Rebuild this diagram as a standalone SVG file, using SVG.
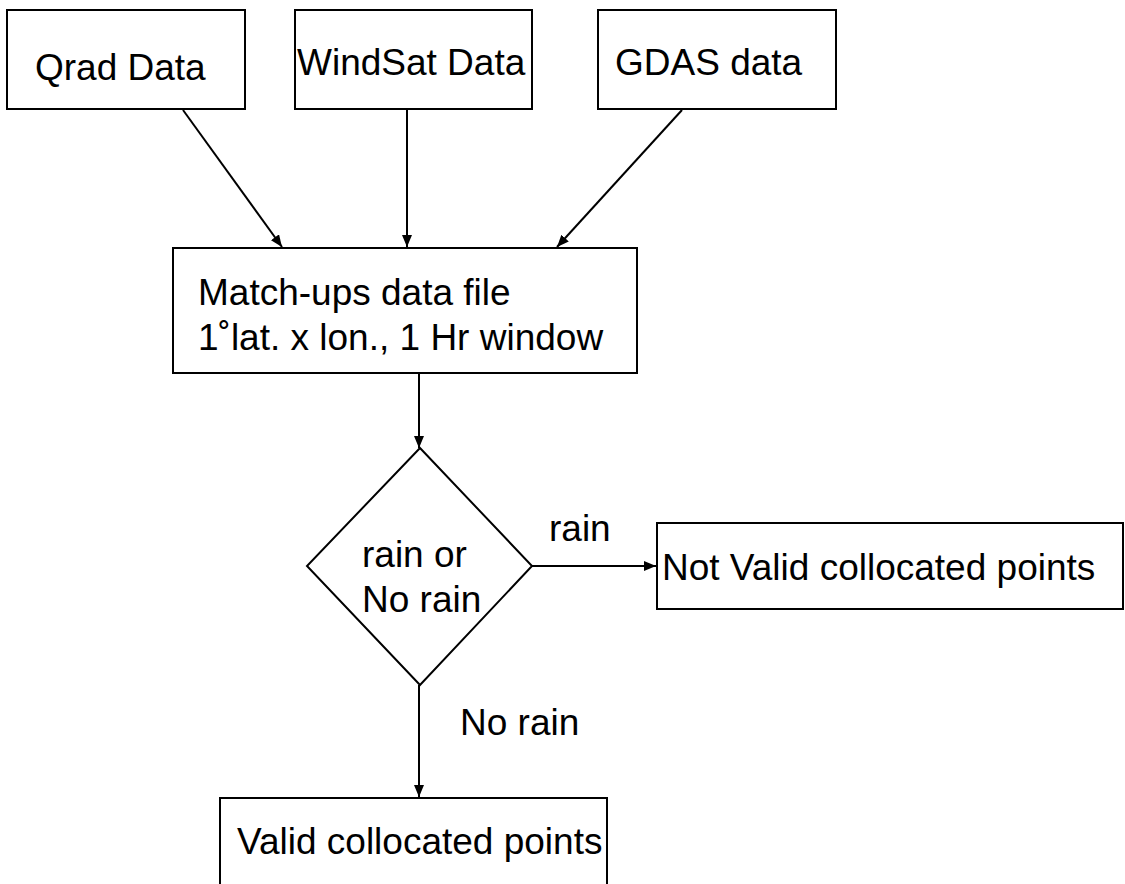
<svg xmlns="http://www.w3.org/2000/svg" width="1125" height="884" viewBox="0 0 1125 884">
  <style>
    .box { fill: #ffffff; stroke: #000000; stroke-width: 2; }
    .lbl { font-family: "Liberation Sans", Arial, sans-serif; font-size: 37px; fill: #000000; }
    .edge { fill: none; stroke: #000000; stroke-width: 2; marker-end: url(#arrow); }
  </style>
  <defs>
    <marker id="arrow" markerUnits="userSpaceOnUse" viewBox="0 0 12 10" refX="12" refY="5" markerWidth="12" markerHeight="10" orient="auto">
      <path d="M0,0 L12,5 L0,10 Z" fill="#000000"/>
    </marker>
  </defs>
  <rect width="1125" height="884" fill="#ffffff"/>

  <g id="connectors">
    <line class="edge" x1="183" y1="110" x2="282" y2="247"/>
    <line class="edge" x1="407" y1="110" x2="407" y2="247"/>
    <line class="edge" x1="682" y1="110" x2="557" y2="247"/>
    <line class="edge" x1="419" y1="373" x2="419" y2="448"/>
    <line class="edge" x1="532" y1="566" x2="656" y2="566"/>
    <line class="edge" x1="419" y1="685" x2="419" y2="797"/>
    <text class="lbl" x="549" y="541">rain</text>
    <text class="lbl" x="460" y="735">No rain</text>
  </g>

  <g id="qrad">
    <rect class="box" x="7" y="10" width="238" height="99"/>
    <text class="lbl" x="35" y="80">Qrad Data</text>
  </g>

  <g id="windsat">
    <rect class="box" x="295" y="10" width="237" height="99"/>
    <text class="lbl" x="297" y="75">WindSat Data</text>
  </g>

  <g id="gdas">
    <rect class="box" x="598" y="10" width="238" height="99"/>
    <text class="lbl" x="615" y="75">GDAS data</text>
  </g>

  <g id="matchups">
    <rect class="box" x="173" y="248" width="464" height="125"/>
    <text class="lbl" x="198" y="305">Match-ups data file</text>
    <text class="lbl" x="198" y="350">1˚lat. x lon., 1 Hr window</text>
  </g>

  <g id="decision">
    <polygon class="box" points="420,448 532,566 420,685 307,566"/>
    <text class="lbl" x="362" y="567">rain or</text>
    <text class="lbl" x="362" y="612">No rain</text>
  </g>

  <g id="not-valid">
    <rect class="box" x="657" y="523" width="466" height="86"/>
    <text class="lbl" x="662" y="580">Not Valid collocated points</text>
  </g>

  <g id="valid">
    <rect class="box" x="220" y="798" width="387" height="100"/>
    <text class="lbl" x="237" y="854">Valid collocated points</text>
  </g>
</svg>
